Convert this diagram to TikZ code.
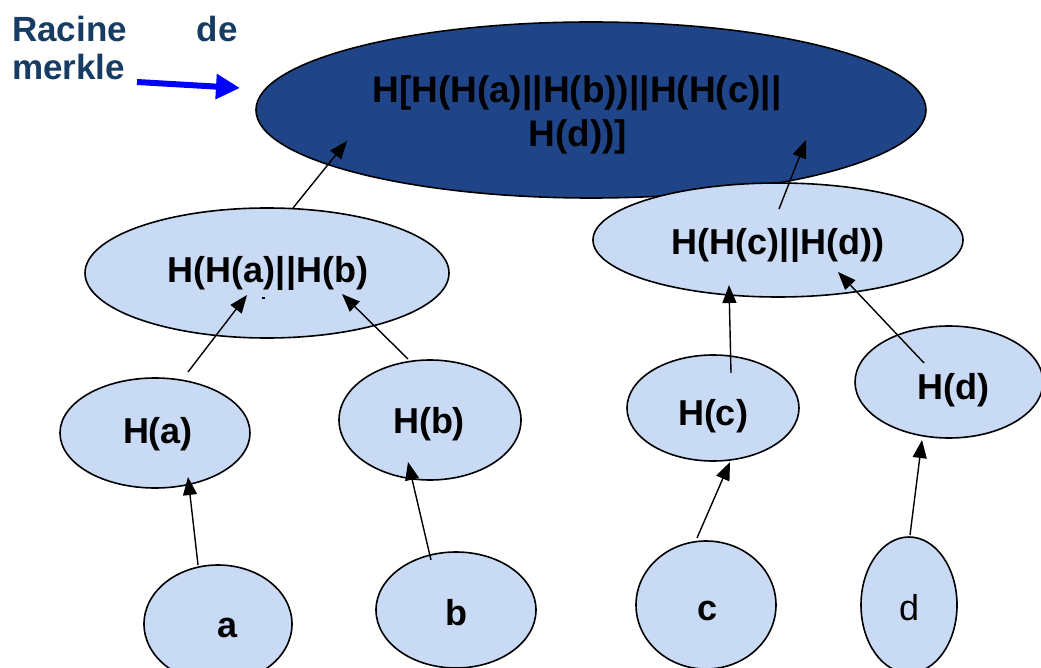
\documentclass[tikz,border=0pt]{standalone}
\usepackage{fontspec}
\setmainfont{Liberation Sans}
\usetikzlibrary{shapes.geometric,arrows.meta}
\definecolor{rootblue}{RGB}{31,68,135}
\definecolor{leafblue}{RGB}{201,218,245}
\definecolor{labelblue}{RGB}{23,60,99}
\definecolor{pointer}{RGB}{0,0,255}
\begin{document}
\begin{tikzpicture}[x=1pt,y=-1pt,
  bubble/.style={ellipse,draw=black,line width=1.6pt,fill=leafblue,inner sep=0pt},
  rootbubble/.style={bubble,fill=rootblue},
  txt/.style={anchor=base,inner sep=0pt,font=\fontsize{36}{44}\selectfont\bfseries},
  roottxt/.style={txt,font=\fontsize{37}{44}\selectfont\bfseries},
  txtreg/.style={anchor=base,inner sep=0pt,font=\fontsize{36}{44}\selectfont},
  caption/.style={inner sep=0pt,text=labelblue,font=\fontsize{35}{42}\selectfont\bfseries},
  link/.style={line width=1.4pt,-{Triangle[length=18pt,width=14pt]}},
  pointerarrow/.style={draw=pointer,line width=6pt,-{Triangle[length=24pt,width=24pt]}},
]
\useasboundingbox (0,0) rectangle (1041,668);

% Merkle root
\node[rootbubble,minimum width=670pt,minimum height=176pt] (root) at (591,110) {};
\node[roottxt] (troot1) at (577,103) {H[H(H(a)||H(b))||H(H(c)||};
\node[roottxt] (troot2) at (578,147) {H(d))]};

% second level
\node[bubble,minimum width=364pt,minimum height=130pt] (hab) at (267,273) {};
\node[bubble,minimum width=370pt,minimum height=114pt] (hcd) at (778,240) {};
\node[txt] (tab) at (268,283) {H(H(a)||H(b)};
\node[txt] (tcd) at (778,255) {H(H(c)||H(d))};
\fill (262,297) rectangle (265,299);

% leaf hashes
\node[bubble,minimum width=190pt,minimum height=110pt] (ha) at (155,433) {};
\node[bubble,minimum width=182pt,minimum height=120pt] (hb) at (430,420) {};
\node[bubble,minimum width=172pt,minimum height=106pt] (hc) at (713,408) {};
\node[bubble,minimum width=188pt,minimum height=112pt] (hd) at (949,382) {};
\node[txt] (tha) at (158,443) {H(a)};
\node[txt] (thb) at (429,433) {H(b)};
\node[txt] (thc) at (713,425) {H(c)};
\node[txt] (thd) at (953,399) {H(d)};

% data blocks
\node[bubble,minimum width=148pt,minimum height=118pt] (la) at (218,624) {};
\node[bubble,minimum width=160pt,minimum height=116pt] (lb) at (456,610) {};
\node[bubble,minimum width=140pt,minimum height=128pt] (lc) at (706,605) {};
\node[bubble,minimum width=96pt,minimum height=136pt] (ld) at (909,605) {};
\node[txt] (ta) at (228,637) {a};
\node[txt] (tb) at (456,625) {b};
\node[txt] (tc) at (708,620) {c};
\node[txtreg] (td) at (909,620) {d};

% hashing links
\draw[link] ([shift={(26,-65)}]hab.center) -- ([shift={(-244,31)}]root.center);
\draw[link] ([shift={(1,-31)}]hcd.center) -- ([shift={(215,30)}]root.center);
\draw[link] ([shift={(33,-61)}]ha.center) -- ([shift={(-20,22)}]hab.center);
\draw[link] ([shift={(-22,-61)}]hb.center) -- ([shift={(75,21)}]hab.center);
\draw[link] ([shift={(18,-35)}]hc.center) -- ([shift={(-49,45)}]hcd.center);
\draw[link] ([shift={(-25,-19)}]hd.center) -- ([shift={(60,32)}]hcd.center);
\draw[link] ([shift={(-20,-59)}]la.center) -- ([shift={(33,44)}]ha.center);
\draw[link] ([shift={(-25,-50)}]lb.center) -- ([shift={(-22,42)}]hb.center);
\draw[link] ([shift={(-9,-67)}]lc.center) -- ([shift={(17,54)}]hc.center);
\draw[link] ([shift={(1,-70)}]ld.center) -- ([shift={(-27,58)}]hd.center);

% caption
\node[caption,anchor=base west] (cap1) at (12,42) {Racine};
\node[caption,anchor=base east] (cap2) at (238,42) {de};
\node[caption,anchor=base west] (cap3) at (12,80) {merkle};
\coordinate (ps) at (137,82);
\coordinate (pe) at (240,88);
\draw[pointerarrow] (ps) -- (pe);
\end{tikzpicture}
\end{document}
